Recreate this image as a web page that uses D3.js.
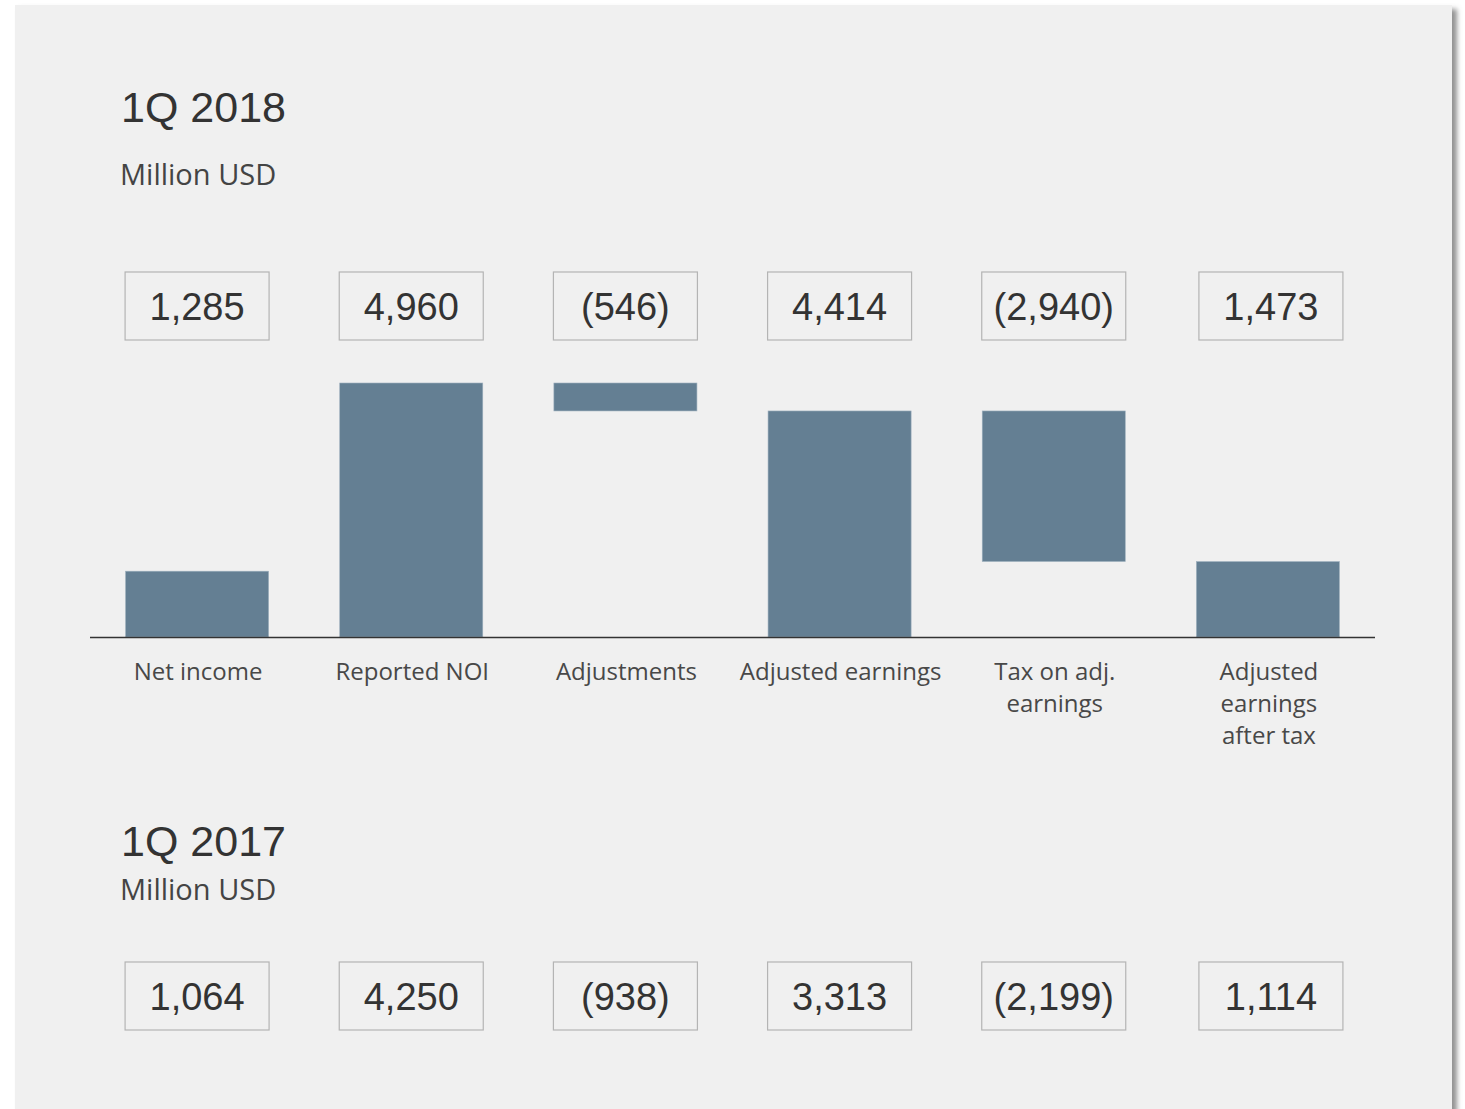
<!DOCTYPE html>
<html>
<head>
    <script src="https://cdnjs.cloudflare.com/ajax/libs/d3/7.8.5/d3.min.js"></script>
    <style>
        body { margin: 0; background: #fff; }
        .title { font-family: "Liberation Sans", Arial, sans-serif; font-size: 43px; fill: #333; }
        .sub { font-family: "Open Sans", sans-serif; font-size: 29px; fill: #444; }
        .cat { font-family: "Open Sans", sans-serif; font-size: 24px; fill: #484848; }
        .num { font-family: "Liberation Sans", Arial, sans-serif; font-size: 38px; fill: #333; }
    </style>
</head>
<body>
    <div id="chart"></div>
    <script>
        const width = 1465, height = 1109;

        const categories = ["Net income", "Reported NOI", "Adjustments", "Adjusted earnings", "Tax on adj. earnings", "Adjusted earnings after tax"];
        const labelLines = [["Net income"], ["Reported NOI"], ["Adjustments"], ["Adjusted earnings"], ["Tax on adj.", "earnings"], ["Adjusted", "earnings", "after tax"]];
        // bar type: total bars start at zero, delta bars hang from previous total
        const barType = ["total", "total", "delta", "total", "delta", "total"];
        const values2018 = [1285, 4960, -546, 4414, -2940, 1473];
        const values2017 = [1064, 4250, -938, 3313, -2199, 1114];

        const fmt = v => v < 0 ? "(" + d3.format(",")(-v) + ")" : d3.format(",")(v);

        const svg = d3.select("#chart").append("svg").attr("width", width).attr("height", height);

        const defs = svg.append("defs");
        const f = defs.append("filter").attr("id", "shadow").attr("x", "-5%").attr("y", "-5%").attr("width", "115%").attr("height", "115%");
        f.append("feDropShadow").attr("dx", 5).attr("dy", 4).attr("stdDeviation", 2.5).attr("flood-color", "#777").attr("flood-opacity", 0.8);

        svg.append("rect")
            .attr("x", 15).attr("y", 5).attr("width", 1437).attr("height", 1130)
            .attr("fill", "#f0f0f0")
            .attr("filter", "url(#shadow)");

        const x = d3.scaleBand().domain(categories).range([90, 1375]).paddingInner(0.332).paddingOuter(0.166);
        const y = d3.scaleLinear().domain([0, 4960]).range([637, 383]);

        // waterfall spans
        let run = 0;
        const spans = values2018.map((v, i) => {
            let lo, hi;
            if (barType[i] === "total") { lo = 0; hi = v; run = v; }
            else { hi = run; lo = run + v; run = lo; }
            return { cat: categories[i], lo, hi };
        });

        svg.append("text").attr("class", "title").attr("x", 121).attr("y", 122).text("1Q 2018");
        svg.append("text").attr("class", "sub").attr("x", 120).attr("y", 185).text("Million USD");

        function valueBoxes(vals, top) {
            const g = svg.append("g");
            const boxes = g.selectAll("g").data(vals).enter().append("g")
                .attr("transform", (d, i) => `translate(${x(categories[i]) + x.bandwidth() / 2 + (i === 5 ? 3 : 0)},${top})`);
            boxes.append("rect")
                .attr("x", -72).attr("y", 0).attr("width", 144).attr("height", 68)
                .attr("fill", "none").attr("stroke", "#b4b4b4").attr("stroke-width", 1.2);
            boxes.append("text").attr("class", "num")
                .attr("text-anchor", "middle").attr("y", 48)
                .text(d => fmt(d));
        }

        valueBoxes(values2018, 272);

        svg.append("g").selectAll("rect").data(spans).enter().append("rect")
            .attr("x", d => x(d.cat))
            .attr("width", x.bandwidth())
            .attr("y", d => y(d.hi))
            .attr("height", d => y(d.lo) - y(d.hi))
            .attr("fill", "#647f93")
            .attr("stroke", "#9fb1bf")
            .attr("stroke-width", 0.6);

        svg.append("line")
            .attr("x1", 90).attr("x2", 1375)
            .attr("y1", 637.5).attr("y2", 637.5)
            .attr("stroke", "#333").attr("stroke-width", 1.3);

        const lab = svg.append("g").selectAll("text").data(categories).enter().append("text")
            .attr("class", "cat")
            .attr("text-anchor", "middle")
            .attr("y", 680);
        lab.each(function (d, i) {
            d3.select(this).selectAll("tspan").data(labelLines[i]).enter().append("tspan")
                .attr("x", x(d) + x.bandwidth() / 2 + 1)
                .attr("dy", (t, j) => j === 0 ? 0 : 32)
                .text(t => t);
        });

        svg.append("text").attr("class", "title").attr("x", 121).attr("y", 856).text("1Q 2017");
        svg.append("text").attr("class", "sub").attr("x", 120).attr("y", 900).text("Million USD");

        valueBoxes(values2017, 962);
    </script>
</body>
</html>
